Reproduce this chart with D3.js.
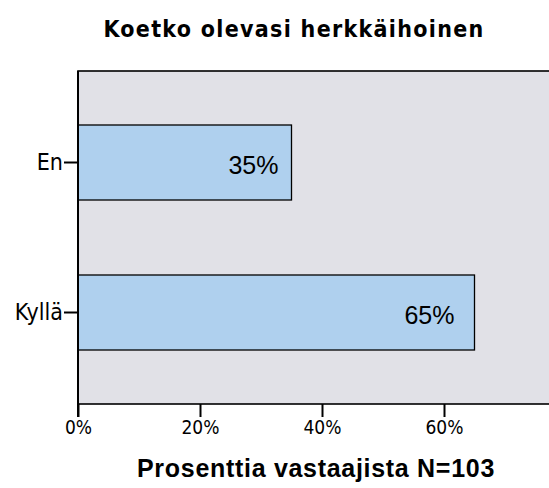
<!DOCTYPE html>
<html>
<head>
<meta charset="utf-8">
<script src="https://cdn.jsdelivr.net/npm/d3@7"></script>
<style>
  body { margin: 0; background: #fff; }
  svg { display: block; }
</style>
</head>
<body>
<svg id="chart"></svg>
<script>
const categories = ["En", "Kyllä"];
const percents = [35, 65];
const xTicks = [0, 20, 40, 60];
const title = "Koetko olevasi herkkäihoinen";
const xTitle = "Prosenttia vastaajista N=103";

const width = 549;
const height = 488;
const margin = { top: 71, right: -17, bottom: 84, left: 78 };
const labelInset = [13, 20];

const svg = d3.select("#chart")
    .attr("width", width)
    .attr("height", height);

const xScale = d3.scaleLinear()
    .domain([0, 80])
    .range([margin.left, width - margin.right]);

const yScale = d3.scaleBand()
    .domain(categories)
    .range([margin.top, height - margin.bottom])
    .paddingInner(0.5)
    .paddingOuter(0.36);

// plot background
svg.append("rect")
    .attr("x", margin.left)
    .attr("y", margin.top)
    .attr("width", width - margin.right - margin.left)
    .attr("height", height - margin.bottom - margin.top)
    .attr("fill", "#e1e1e7")
    .attr("stroke", "#000")
    .attr("stroke-width", 1.6);

// bars
svg.selectAll("rect.bar")
    .data(categories)
    .enter().append("rect")
    .attr("class", "bar")
    .attr("x", xScale(0))
    .attr("y", d => yScale(d))
    .attr("width", (d, i) => xScale(percents[i]) - xScale(0))
    .attr("height", yScale.bandwidth())
    .attr("fill", "#afd0ee")
    .attr("stroke", "#000")
    .attr("stroke-width", 1.3);

// value labels
svg.selectAll("text.val")
    .data(categories)
    .enter().append("text")
    .attr("class", "val")
    .attr("x", (d, i) => xScale(percents[i]) - labelInset[i])
    .attr("y", d => yScale(d) + yScale.bandwidth() / 2 + 11)
    .attr("text-anchor", "end")
    .style("font-family", "'Liberation Sans', Arial, sans-serif")
    .style("font-size", "25px")
    .attr("fill", "#000")
    .text((d, i) => percents[i] + "%");

// x axis
const xAxis = svg.append("g")
    .attr("transform", `translate(0, ${height - margin.bottom})`)
    .call(d3.axisBottom(xScale)
        .tickValues(xTicks)
        .tickFormat(d => d + "%")
        .tickSize(13)
        .tickPadding(4));
xAxis.select(".domain").remove();
xAxis.selectAll("line").attr("stroke", "#000").attr("stroke-width", 2);
xAxis.selectAll("text")
    .style("font-family", "'DejaVu Sans Condensed', 'DejaVu Sans', sans-serif")
    .style("font-size", "19px")
    .attr("fill", "#000");

// y axis
const yAxis = svg.append("g")
    .attr("transform", `translate(${margin.left}, 0)`)
    .call(d3.axisLeft(yScale).tickSize(14).tickPadding(1));
yAxis.select(".domain")
    .attr("d", `M0,${margin.top}V${height - margin.bottom + 13}`)
    .attr("stroke", "#000")
    .attr("stroke-width", 2);
yAxis.selectAll("line").attr("stroke", "#000").attr("stroke-width", 2);
yAxis.selectAll("text")
    .style("font-family", "'DejaVu Sans Condensed', 'DejaVu Sans', sans-serif")
    .style("font-size", "23px")
    .attr("fill", "#000");

// titles
svg.append("text")
    .attr("x", 294)
    .attr("y", 37)
    .attr("text-anchor", "middle")
    .style("font-family", "'DejaVu Sans Condensed', 'DejaVu Sans', sans-serif")
    .style("font-weight", "bold")
    .style("font-size", "23px")
    .style("letter-spacing", "1.3px")
    .text(title);

svg.append("text")
    .attr("x", 316)
    .attr("y", 477)
    .attr("text-anchor", "middle")
    .style("font-family", "'Liberation Sans', Arial, sans-serif")
    .style("font-weight", "bold")
    .style("font-size", "25px")
    .style("letter-spacing", "0.7px")
    .text(xTitle);
</script>
</body>
</html>
